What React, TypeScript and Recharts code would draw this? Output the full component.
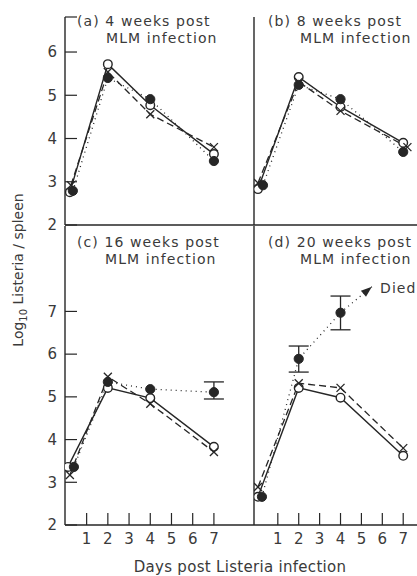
import React from 'react';
import { LineChart, Line, XAxis, YAxis, ErrorBar } from 'recharts';

const INK = '#262626';
const TEXT = '#3a3a3a';
const FONT = '"DejaVu Sans", "Liberation Sans", sans-serif';

const dayTicks = [1, 2, 3, 4, 5, 6, 7];
const topYTicks = [2, 3, 4, 5, 6, 6.81];
const bottomYTicks = [2, 3, 4, 5, 6, 7];

// Panel (a) 4 weeks
const aOpenDays = [0.21, 2, 4, 7];
const aOpenVals = [2.76, 5.72, 4.77, 3.64];
const aFilledDays = [0.35, 2, 4, 7];
const aFilledVals = [2.79, 5.4, 4.91, 3.48];
const aCrossDays = [0.26, 2, 4, 7];
const aCrossVals = [2.92, 5.54, 4.56, 3.8];

// Panel (b) 8 weeks
const bOpenDays = [0.05, 2, 4, 7];
const bOpenVals = [2.83, 5.42, 4.73, 3.9];
const bFilledDays = [0.29, 2, 4, 7];
const bFilledVals = [2.92, 5.24, 4.91, 3.69];
const bCrossDays = [0.05, 2, 4, 7.2];
const bCrossVals = [2.97, 5.31, 4.64, 3.8];

// Panel (c) 16 weeks
const cOpenDays = [0.12, 2, 4, 7];
const cOpenVals = [3.36, 5.21, 4.97, 3.83];
const cFilledDays = [0.4, 2, 4, 7];
const cFilledVals = [3.36, 5.35, 5.18, 5.11];
const cFilledErr = [null, null, null, [0.16, 0.24]];
const cCrossDays = [0.21, 2, 4, 7];
const cCrossVals = [3.17, 5.47, 4.84, 3.71];

// Panel (d) 20 weeks
const dOpenDays = [0.05, 2, 4, 7];
const dOpenVals = [2.66, 5.21, 4.98, 3.62];
const dFilledDays = [0.24, 2, 4];
const dFilledVals = [2.66, 5.89, 6.97];
const dFilledErr = [null, [0.31, 0.3], [0.4, 0.39]];
const dCrossDays = [0.05, 2, 4, 7];
const dCrossVals = [2.89, 5.32, 5.21, 3.8];
const dDiedDays = [4, 5.5];
const dDiedVals = [6.97, 7.58];

type Pt = { day: number; v: number; err?: number[] };

const toPts = (days: number[], vals: number[], errs?: (number[] | null)[]): Pt[] =>
  days.map((d, i) => {
    const p: Pt = { day: d, v: vals[i] };
    if (errs && errs[i]) p.err = errs[i] as number[];
    return p;
  });

const OpenDot = (props: any) => {
  const { cx, cy } = props;
  if (cx == null || cy == null) return <g />;
  return <circle cx={cx} cy={cy} r={4.3} fill="#fff" stroke={INK} strokeWidth={1.4} />;
};

const FilledDot = (props: any) => {
  const { cx, cy } = props;
  if (cx == null || cy == null) return <g />;
  return <circle cx={cx} cy={cy} r={4.6} fill={INK} stroke={INK} strokeWidth={1} />;
};

const CrossDot = (props: any) => {
  const { cx, cy } = props;
  if (cx == null || cy == null) return <g />;
  const s = 4;
  return (
    <g stroke={INK} strokeWidth={1.3}>
      <line x1={cx - s} y1={cy - s} x2={cx + s} y2={cy + s} />
      <line x1={cx - s} y1={cy + s} x2={cx + s} y2={cy - s} />
    </g>
  );
};

const ArrowDot = (props: any) => {
  const { cx, cy, index } = props;
  if (cx == null || cy == null || index !== 1) return <g />;
  return (
    <polygon
      points="0,0 -11,-4 -11,4"
      fill={INK}
      transform={`translate(${cx},${cy}) rotate(-40)`}
    />
  );
};

type PanelProps = {
  left: number;
  top: number;
  width: number;
  height: number;
  marginTop: number;
  yWidth: number;
  xHeight: number;
  xDomain: [number, number];
  yDomain: [number, number];
  yTicks: number[];
  showYLabels: boolean;
  showXLabels: boolean;
  open: Pt[];
  filled: Pt[];
  cross: Pt[];
  died?: Pt[];
};

const tickStyle = { fontSize: 15, fill: TEXT, fontFamily: FONT };

function Panel(p: PanelProps) {
  return (
    <div style={{ position: 'absolute', left: p.left, top: p.top }}>
      <LineChart
        width={p.width}
        height={p.height}
        margin={{ top: p.marginTop, right: 0, bottom: 0, left: 0 }}
      >
        <XAxis
          dataKey="day"
          type="number"
          domain={p.xDomain}
          allowDataOverflow
          ticks={dayTicks}
          height={p.xHeight}
          tickSize={-12}
          tickMargin={20}
          tick={p.showXLabels ? tickStyle : false}
          axisLine={{ stroke: INK, strokeWidth: 1.4 }}
          tickLine={{ stroke: INK, strokeWidth: 1.2 }}
          interval={0}
        />
        <YAxis
          dataKey="v"
          type="number"
          domain={p.yDomain}
          allowDataOverflow
          ticks={p.yTicks}
          width={p.yWidth}
          tickSize={-12}
          tickMargin={20}
          tick={p.showYLabels ? tickStyle : false}
          tickFormatter={(v: number) => (Number.isInteger(v) ? String(v) : '')}
          axisLine={{ stroke: INK, strokeWidth: 1.4 }}
          tickLine={{ stroke: INK, strokeWidth: 1.2 }}
          interval={0}
        />
        <Line
          data={p.open}
          dataKey="v"
          stroke={INK}
          strokeWidth={1.4}
          dot={<OpenDot />}
          isAnimationActive={false}
          type="linear"
        />
        <Line
          data={p.cross}
          dataKey="v"
          stroke={INK}
          strokeWidth={1.3}
          strokeDasharray="7 4"
          dot={<CrossDot />}
          isAnimationActive={false}
          type="linear"
        />
        {p.died && (
          <Line
            data={p.died}
            dataKey="v"
            stroke={INK}
            strokeWidth={1.3}
            strokeDasharray="1 4"
            dot={<ArrowDot />}
            isAnimationActive={false}
            type="linear"
          />
        )}
        <Line
          data={p.filled}
          dataKey="v"
          stroke={INK}
          strokeWidth={1.3}
          strokeDasharray="1 4"
          dot={<FilledDot />}
          isAnimationActive={false}
          type="linear"
        >
          <ErrorBar dataKey="err" width={10} stroke={INK} strokeWidth={1.3} direction="y" />
        </Line>
      </LineChart>
    </div>
  );
}

export default function App() {
  const leftDomain: [number, number] = [-0.02, 8.89];
  const rightDomain: [number, number] = [-0.14, 7.66];
  const topY: [number, number] = [2, 6.81];
  const botY: [number, number] = [2, 9];
  const t = { fontSize: 14, fill: TEXT, fontFamily: FONT, letterSpacing: 1.1 };
  return (
    <div style={{ position: 'absolute', left: 0, top: 0, width: 417, height: 576, background: '#fff', overflow: 'hidden' }}>
      <Panel
        left={0} top={0} width={254} height={240} marginTop={17} yWidth={65} xHeight={15}
        xDomain={leftDomain} yDomain={topY} yTicks={topYTicks} showYLabels showXLabels={false}
        open={toPts(aOpenDays, aOpenVals)} filled={toPts(aFilledDays, aFilledVals)} cross={toPts(aCrossDays, aCrossVals)}
      />
      <Panel
        left={240} top={0} width={177} height={240} marginTop={17} yWidth={14} xHeight={15}
        xDomain={rightDomain} yDomain={topY} yTicks={topYTicks} showYLabels={false} showXLabels={false}
        open={toPts(bOpenDays, bOpenVals)} filled={toPts(bFilledDays, bFilledVals)} cross={toPts(bCrossDays, bCrossVals)}
      />
      <Panel
        left={0} top={210} width={254} height={345} marginTop={16} yWidth={65} xHeight={30}
        xDomain={leftDomain} yDomain={botY} yTicks={bottomYTicks} showYLabels showXLabels
        open={toPts(cOpenDays, cOpenVals)} filled={toPts(cFilledDays, cFilledVals, cFilledErr)} cross={toPts(cCrossDays, cCrossVals)}
      />
      <Panel
        left={240} top={210} width={177} height={345} marginTop={16} yWidth={14} xHeight={30}
        xDomain={rightDomain} yDomain={botY} yTicks={bottomYTicks} showYLabels={false} showXLabels
        open={toPts(dOpenDays, dOpenVals)} filled={toPts(dFilledDays, dFilledVals, dFilledErr)} cross={toPts(dCrossDays, dCrossVals)}
        died={toPts(dDiedDays, dDiedVals)}
      />
      <svg width={417} height={576} style={{ position: 'absolute', left: 0, top: 0, pointerEvents: 'none' }}>
        <text x={77} y={26} {...t}>(a) 4 weeks post</text>
        <text x={106} y={43} {...t}>MLM infection</text>
        <text x={268} y={26} {...t}>(b) 8 weeks post</text>
        <text x={300} y={43} {...t}>MLM infection</text>
        <text x={77} y={247} {...t}>(c) 16 weeks post</text>
        <text x={105} y={264} {...t}>MLM infection</text>
        <text x={268} y={247} {...t}>(d) 20 weeks post</text>
        <text x={300} y={264} {...t}>MLM infection</text>
        <text x={380} y={293} {...t}>Died</text>
        <text x={240} y={572} textAnchor="middle" {...t} fontSize={15} letterSpacing={0.3}>Days post Listeria infection</text>
        <text transform="translate(23,270) rotate(-90)" textAnchor="middle" {...t} letterSpacing={0}>
          Log<tspan fontSize={10} dy={4}>10</tspan><tspan dy={-4}> Listeria / spleen</tspan>
        </text>
      </svg>
    </div>
  );
}
